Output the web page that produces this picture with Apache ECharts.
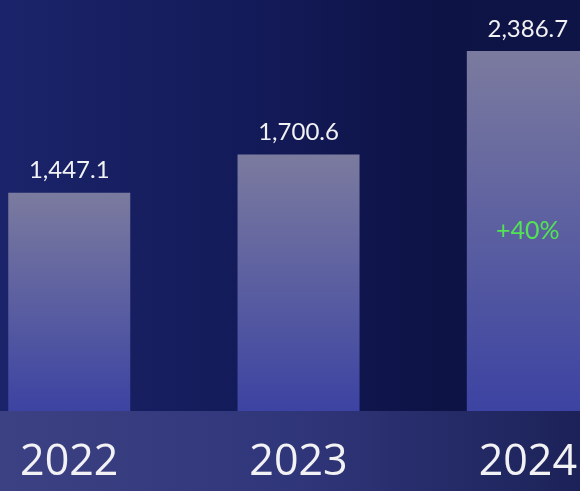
<!DOCTYPE html>
<html>
<head>
<meta charset="utf-8">
<script src="https://cdn.jsdelivr.net/npm/echarts@6/dist/echarts.min.js"></script>
<style>html,body{margin:0;padding:0;background:#0e1446;}#c{width:580px;height:491px;}</style>
</head>
<body>
<div id="c"></div>
<script>
var years = ['2022', '2023', '2024'];
var values = [1447.1, 1700.6, 2386.7];
var growthLabels = ['', '', '+40%'];

var points = values.map(function (v, i) { return [i, v]; });

var chart = echarts.init(document.getElementById('c'), null, {renderer: 'canvas'});
chart.setOption({
  animation: false,
  backgroundColor: {
    type: 'linear', x: 0, y: 0, x2: 1, y2: 0,
    colorStops: [
      {offset: 0, color: '#1b246a'},
      {offset: 0.45, color: '#131a58'},
      {offset: 0.75, color: '#0d1345'},
      {offset: 1, color: '#0e1446'}
    ]
  },
  graphic: [{
    type: 'rect', left: 0, bottom: 0, z: -1,
    shape: {width: 580, height: 80},
    style: {
      fill: {
        type: 'linear', x: 0, y: 0, x2: 1, y2: 0,
        colorStops: [
          {offset: 0, color: '#3c4183'},
          {offset: 0.5, color: '#30367a'},
          {offset: 1, color: '#1c2258'}
        ]
      }
    }
  }],
  grid: {left: 0, right: 0, top: 49, bottom: 80, containLabel: false},
  xAxis: {
    type: 'value',
    min: -0.302, max: 2.2196,
    axisLine: {show: false},
    axisTick: {show: false},
    splitLine: {show: false},
    axisLabel: {
      customValues: [0, 1, 2],
      color: '#f2f2f4', fontSize: 43, fontFamily: 'Open Sans', margin: 30,
      formatter: function (v) { return years[Math.round(v)]; }
    }
  },
  yAxis: {
    type: 'value', min: 0, max: 2400,
    show: false,
    splitLine: {show: false}
  },
  series: [{
    type: 'bar',
    data: points,
    barWidth: 122,
    itemStyle: {
      color: {
        type: 'linear', x: 0, y: 0, x2: 0, y2: 1,
        colorStops: [
          {offset: 0, color: '#7b7b9f'},
          {offset: 1, color: '#3c43a2'}
        ]
      }
    },
    label: {
      show: true, position: 'top', distance: 10,
      color: '#f2f2f4', fontSize: 24, fontFamily: 'Lato',
      formatter: function (p) {
        return p.value[1].toLocaleString('en-US', {minimumFractionDigits: 1, maximumFractionDigits: 1});
      }
    }
  }, {
    type: 'bar',
    data: points,
    barWidth: 122,
    barGap: '-100%',
    itemStyle: {color: 'rgba(0,0,0,0)'},
    label: {
      show: true, position: 'inside',
      color: '#52e452', fontSize: 25, fontFamily: 'Lato',
      formatter: function (p) { return growthLabels[p.dataIndex]; }
    }
  }]
});
</script>
</body>
</html>
